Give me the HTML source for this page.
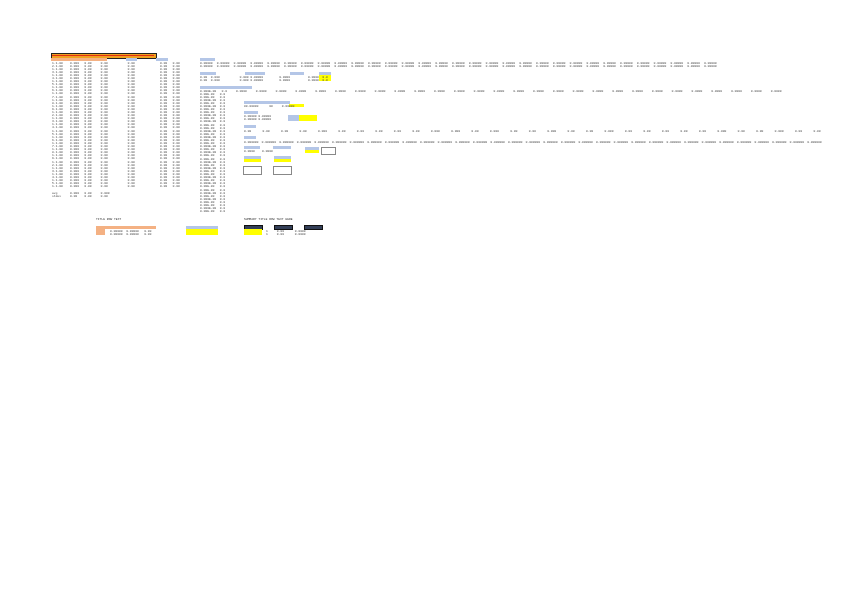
<!DOCTYPE html>
<html><head><meta charset="utf-8"><style>
html,body{margin:0;padding:0;background:#fff;width:848px;height:599px;overflow:hidden;position:relative}
.a{position:absolute}
pre{position:absolute;margin:0;font-family:"Liberation Mono",monospace;font-size:3px;line-height:3.1px;color:#444}
.b{background:#b4c6e7}
.y{background:#ffff00}
.s{background:#f4b183}
.n{background:#333f58;border:1px solid #111}
.bx{border:0.6px solid #888}
</style></head><body>
<div class="a" style="left:51px;top:53px;width:104px;height:4px;background:#f0a020;border:1px solid #222"></div>
<div class="a" style="left:52px;top:54.5px;width:102px;height:1px;background:#e03010"></div>
<div class="a s" style="left:51px;top:58px;width:56px;height:3px"></div>
<div class="a b" style="left:126px;top:58px;width:11px;height:3px"></div>
<div class="a b" style="left:156px;top:58px;width:12px;height:3px"></div>
<pre style="left:52px;top:61.5px">1.1-00    0.000   0.00     0.00           0.00              0.00   0.00
2.1-00    0.000   0.00     0.00           0.00              0.00   0.00
1.1-00    0.000   0.00     0.00           0.00              0.00   0.00
3.1-00    0.000   0.00     0.00           0.00              0.00   0.00
1.1-00    0.000   0.00     0.00           0.00              0.00   0.00
4.1-00    0.000   0.00     0.00           0.00              0.00   0.00
1.1-00    0.000   0.00     0.00           0.00              0.00   0.00
5.1-00    0.000   0.00     0.00           0.00              0.00   0.00
1.1-00    0.000   0.00     0.00           0.00              0.00   0.00
6.1-00    0.000   0.00     0.00           0.00              0.00   0.00
1.1-00    0.000   0.00     0.00           0.00              0.00   0.00
7.1-00    0.000   0.00     0.00           0.00              0.00   0.00
1.1-00    0.000   0.00     0.00           0.00              0.00   0.00
8.1-00    0.000   0.00     0.00           0.00              0.00   0.00
1.1-00    0.000   0.00     0.00           0.00              0.00   0.00
9.1-00    0.000   0.00     0.00           0.00              0.00   0.00
1.1-00    0.000   0.00     0.00           0.00              0.00   0.00
2.1-00    0.000   0.00     0.00           0.00              0.00   0.00
1.1-00    0.000   0.00     0.00           0.00              0.00   0.00
3.1-00    0.000   0.00     0.00           0.00              0.00   0.00
1.1-00    0.000   0.00     0.00           0.00              0.00   0.00
4.1-00    0.000   0.00     0.00           0.00              0.00   0.00
1.1-00    0.000   0.00     0.00           0.00              0.00   0.00
5.1-00    0.000   0.00     0.00           0.00              0.00   0.00
1.1-00    0.000   0.00     0.00           0.00              0.00   0.00
6.1-00    0.000   0.00     0.00           0.00              0.00   0.00
1.1-00    0.000   0.00     0.00           0.00              0.00   0.00
7.1-00    0.000   0.00     0.00           0.00              0.00   0.00
1.1-00    0.000   0.00     0.00           0.00              0.00   0.00
8.1-00    0.000   0.00     0.00           0.00              0.00   0.00
1.1-00    0.000   0.00     0.00           0.00              0.00   0.00
9.1-00    0.000   0.00     0.00           0.00              0.00   0.00
1.1-00    0.000   0.00     0.00           0.00              0.00   0.00
2.1-00    0.000   0.00     0.00           0.00              0.00   0.00
1.1-00    0.000   0.00     0.00           0.00              0.00   0.00
3.1-00    0.000   0.00     0.00           0.00              0.00   0.00
1.1-00    0.000   0.00     0.00           0.00              0.00   0.00
4.1-00    0.000   0.00     0.00           0.00              0.00   0.00
1.1-00    0.000   0.00     0.00           0.00              0.00   0.00
5.1-00    0.000   0.00     0.00           0.00              0.00   0.00
1.1-00    0.000   0.00     0.00           0.00              0.00   0.00</pre>
<pre style="left:52px;top:191.5px">avg       0.000   0.00     0.000
stdev     0.00    0.00     0.00</pre>

<div class="a b" style="left:200px;top:58px;width:15px;height:3px"></div>
<pre style="left:200px;top:62px;word-spacing:2.4px">0.00000 0.00000 0.00000 0.00000 0.00000 0.00000 0.00000 0.00000 0.00000 0.00000 0.00000 0.00000 0.00000 0.00000 0.00000 0.00000 0.00000 0.00000 0.00000 0.00000 0.00000 0.00000 0.00000 0.00000 0.00000 0.00000 0.00000 0.00000 0.00000 0.00000 0.00000
0.00000 0.00000 0.00000 0.00000 0.00000 0.00000 0.00000 0.00000 0.00000 0.00000 0.00000 0.00000 0.00000 0.00000 0.00000 0.00000 0.00000 0.00000 0.00000 0.00000 0.00000 0.00000 0.00000 0.00000 0.00000 0.00000 0.00000 0.00000 0.00000 0.00000 0.00000</pre>

<div class="a b" style="left:200px;top:72px;width:16px;height:3px"></div>
<div class="a b" style="left:245px;top:72px;width:20px;height:3px"></div>
<div class="a b" style="left:290px;top:72px;width:14px;height:3px"></div>
<div class="a b" style="left:319px;top:72px;width:12px;height:3px"></div>
<div class="a y" style="left:319px;top:75px;width:12px;height:6px"></div>
<pre style="left:200px;top:75.5px">0.00  0.000           0.000 0.00000         0.0000          0.0000  0.0
0.00  0.000           0.000 0.00000         0.0000          0.0000  0.0</pre>

<div class="a b" style="left:200px;top:86px;width:52px;height:3px"></div>
<pre style="left:200px;top:89.5px">0.000E-00   0.0     0.0000     0.0000     0.0000     0.0000     0.0000     0.0000     0.0000     0.0000     0.0000     0.0000     0.0000     0.0000     0.0000     0.0000     0.0000     0.0000     0.0000     0.0000     0.0000     0.0000     0.0000     0.0000     0.0000     0.0000     0.0000     0.0000     0.0000     0.0000
0.00E-00   0.0
0.00E-00   0.0
0.000E-00  0.0
0.00E-00   0.0
0.000E-00  0.0
0.00E-00   0.0
0.00E-00   0.0
0.000E-00  0.0
0.00E-00   0.0
0.000E-00  0.0
0.00E-00   0.0
0.00E-00   0.0
0.000E-00  0.0
0.00E-00   0.0
0.000E-00  0.0
0.00E-00   0.0
0.00E-00   0.0
0.000E-00  0.0
0.00E-00   0.0
0.000E-00  0.0
0.00E-00   0.0
0.00E-00   0.0
0.000E-00  0.0
0.00E-00   0.0
0.000E-00  0.0
0.00E-00   0.0
0.00E-00   0.0
0.000E-00  0.0
0.00E-00   0.0
0.000E-00  0.0
0.00E-00   0.0
0.00E-00   0.0
0.000E-00  0.0
0.00E-00   0.0
0.000E-00  0.0
0.00E-00   0.0
0.00E-00   0.0
0.000E-00  0.0
0.00E-00   0.0</pre>

<div class="a b" style="left:244px;top:101px;width:46px;height:3px"></div>
<div class="a y" style="left:289px;top:104px;width:15px;height:3px"></div>
<pre style="left:244px;top:104.5px">00.00000      00     0.00000</pre>

<div class="a b" style="left:244px;top:111px;width:14px;height:3px"></div>
<pre style="left:244px;top:114.5px">0.00000 0.00000
0.00000 0.00000</pre>
<div class="a b" style="left:288px;top:115px;width:11px;height:6px"></div>
<div class="a y" style="left:299px;top:115px;width:18px;height:6px"></div>

<div class="a b" style="left:244px;top:125px;width:12px;height:3px"></div>
<pre style="left:244px;top:129.5px;word-spacing:9.5px">0.00 0.00 0.00 0.00 0.000 0.00 0.00 0.00 0.00 0.00 0.000 0.000 0.00 0.000 0.00 0.00 0.000 0.00 0.00 0.000 0.00 0.00 0.00 0.00 0.00 0.000 0.00 0.00 0.000 0.00 0.00</pre>

<div class="a b" style="left:244px;top:136px;width:12px;height:3px"></div>
<pre style="left:244px;top:140.5px;word-spacing:1.4px">0.000000 0.000000 0.000000 0.000000 0.000000 0.000000 0.000000 0.000000 0.000000 0.000000 0.000000 0.000000 0.000000 0.000000 0.000000 0.000000 0.000000 0.000000 0.000000 0.000000 0.000000 0.000000 0.000000 0.000000 0.000000 0.000000 0.000000 0.000000 0.000000 0.000000 0.000000 0.000000 0.000000</pre>

<div class="a b" style="left:244px;top:146px;width:16px;height:3px"></div>
<div class="a b" style="left:273px;top:146px;width:18px;height:3px"></div>
<div class="a b" style="left:305px;top:147px;width:14px;height:3px"></div>
<div class="a y" style="left:305px;top:150px;width:14px;height:3px"></div>
<pre style="left:244px;top:149.5px">0.0000    0.0000</pre>
<div class="a bx" style="left:321px;top:147px;width:13px;height:6px"></div>

<div class="a b" style="left:244px;top:156px;width:17px;height:3px"></div>
<div class="a y" style="left:244px;top:159px;width:17px;height:3px"></div>
<div class="a b" style="left:274px;top:156px;width:17px;height:3px"></div>
<div class="a y" style="left:274px;top:159px;width:17px;height:3px"></div>
<div class="a bx" style="left:243px;top:166px;width:17px;height:7px"></div>
<div class="a bx" style="left:273px;top:166px;width:17px;height:7px"></div>

<pre style="left:96px;top:218px;color:#333">TITLE ROW TEXT</pre>
<pre style="left:244px;top:218px;color:#333">SUMMARY TITLE ROW TEXT HERE</pre>
<div class="a s" style="left:96px;top:226px;width:60px;height:3px"></div>
<div class="a s" style="left:96px;top:229px;width:9px;height:6px"></div>
<pre style="left:110px;top:229.5px">0.00000  0.00000   0.00
0.00000  0.00000   0.00</pre>
<div class="a b" style="left:186px;top:226px;width:32px;height:3px"></div>
<div class="a y" style="left:186px;top:229px;width:32px;height:6px"></div>
<div class="a n" style="left:244px;top:225px;width:17px;height:3px"></div>
<div class="a y" style="left:244px;top:229px;width:18px;height:6px"></div>
<div class="a n" style="left:274px;top:225px;width:17px;height:3px"></div>
<div class="a n" style="left:304px;top:225px;width:17px;height:3px"></div>
<pre style="left:266px;top:229.5px">1     0.00      0.0000
1     0.00      0.0000</pre>
</body></html>
